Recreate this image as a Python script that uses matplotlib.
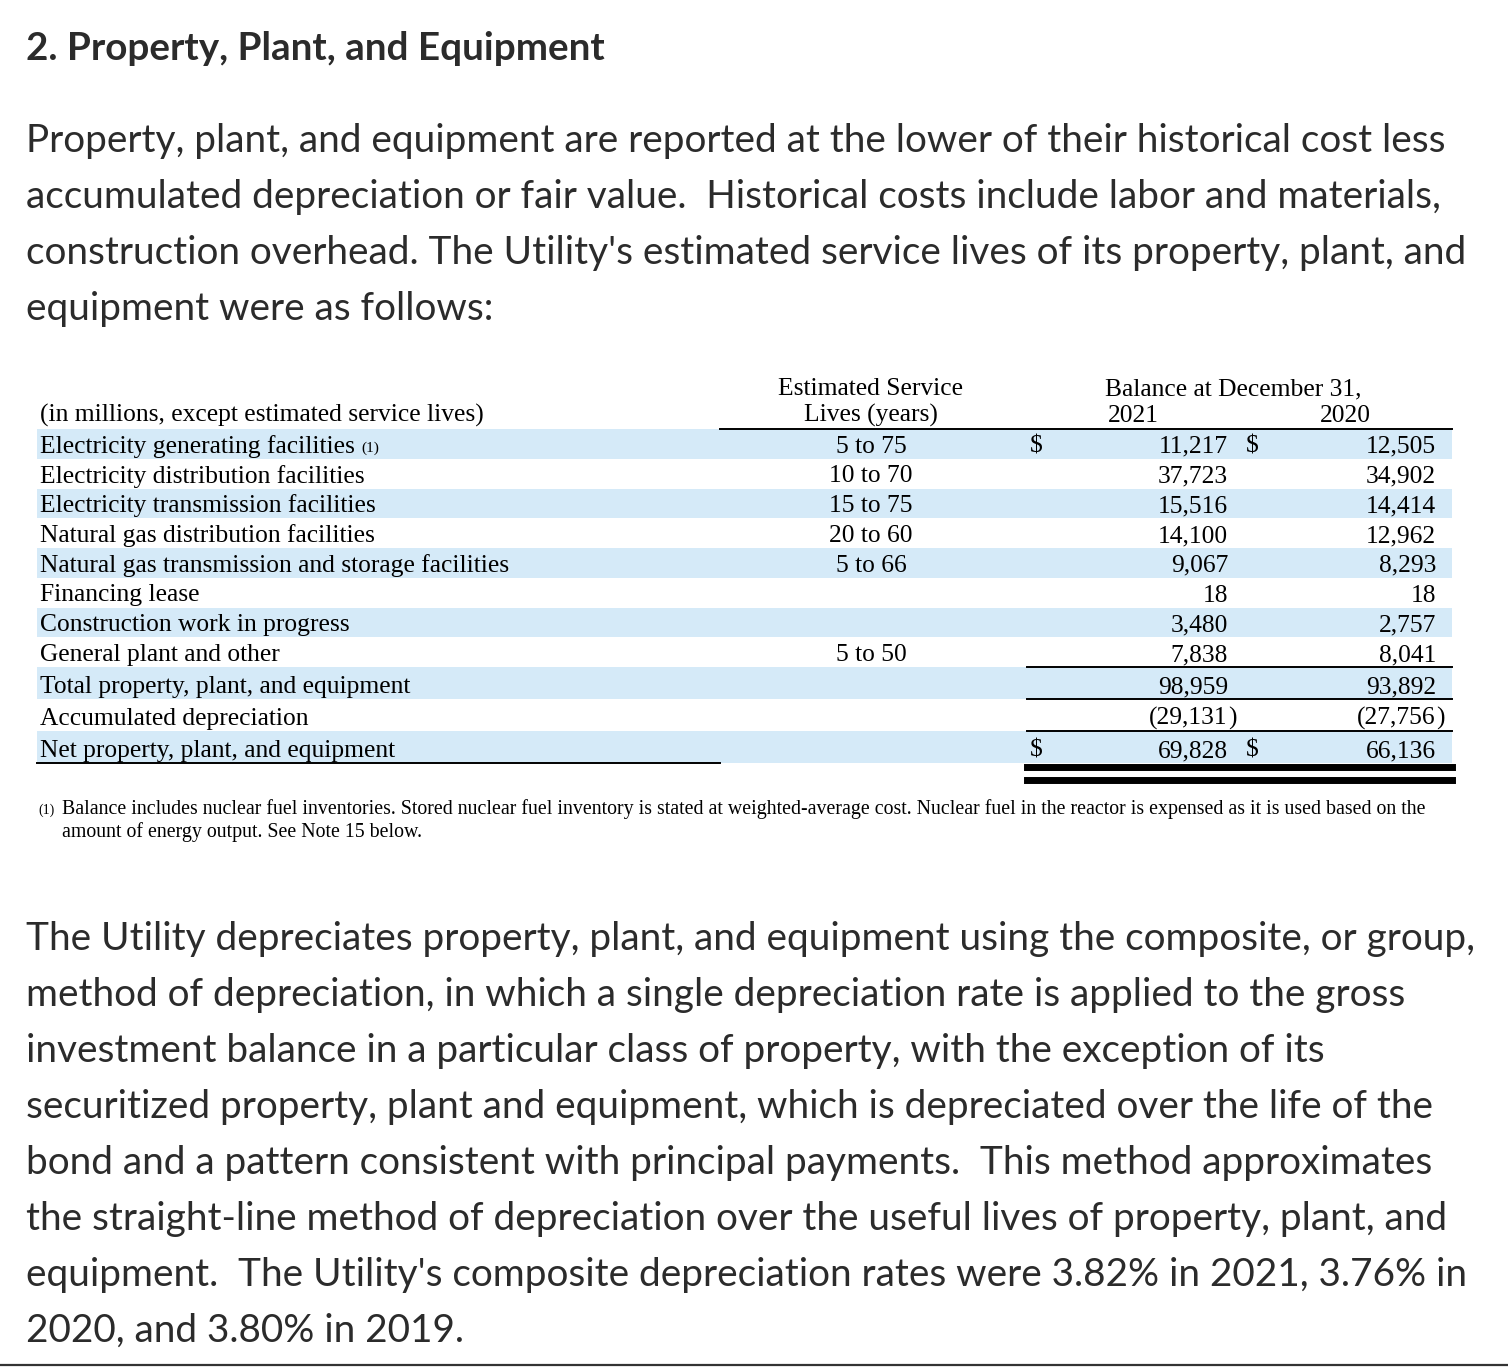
#!/usr/bin/env python3
"""Note 2 (property, plant, and equipment) redrawn as a page image."""

import matplotlib
matplotlib.use("Agg")
import matplotlib.pyplot as plt
from matplotlib.patches import Rectangle

title = "2. Property, Plant, and Equipment"

intro_lines = [
    "Property, plant, and equipment are reported at the lower of their historical cost less",
    "accumulated depreciation or fair value.  Historical costs include labor and materials,",
    "construction overhead. The Utility's estimated service lives of its property, plant, and",
    "equipment were as follows:",
]

outro_lines = [
    "The Utility depreciates property, plant, and equipment using the composite, or group,",
    "method of depreciation, in which a single depreciation rate is applied to the gross",
    "investment balance in a particular class of property, with the exception of its",
    "securitized property, plant and equipment, which is depreciated over the life of the",
    "bond and a pattern consistent with principal payments.  This method approximates",
    "the straight-line method of depreciation over the useful lives of property, plant, and",
    "equipment.  The Utility's composite depreciation rates were 3.82% in 2021, 3.76% in",
    "2020, and 3.80% in 2019.",
]

row_labels = [
    "Electricity generating facilities",
    "Electricity distribution facilities",
    "Electricity transmission facilities",
    "Natural gas distribution facilities",
    "Natural gas transmission and storage facilities",
    "Financing lease",
    "Construction work in progress",
    "General plant and other",
    "Total property, plant, and equipment",
    "Accumulated depreciation",
    "Net property, plant, and equipment",
]
service_lives = ["5 to 75", "10 to 70", "15 to 75", "20 to 60", "5 to 66",
                 "", "", "5 to 50", "", "", ""]
balance_2021 = [11217, 37723, 15516, 14100, 9067, 18, 3480, 7838,
                98959, -29131, 69828]
balance_2020 = [12505, 34902, 14414, 12962, 8293, 18, 2757, 8041,
                93892, -27756, 66136]
dollar_rows = [0, 10]

footnote_lines = [
    "Balance includes nuclear fuel inventories. Stored nuclear fuel inventory is stated at "
    "weighted-average cost. Nuclear fuel in the reactor is expensed as it is used based on the",
    "amount of energy output. See Note 15 below.",
]

W, H = 1508, 1368
SANS = "Lato"
SERIF = "Liberation Serif"
INK = "#2b2b2b"
STRIPE = "#d5eaf8"


def fmt(v):
    """Number as in the filing: thousands commas, negatives in parens."""
    if v < 0:
        return "({:,}".format(-v)  # closing paren drawn separately
    return "{:,}".format(v)


def main():
    fig = plt.figure(figsize=(W / 100, H / 100), dpi=100)
    ax = fig.add_axes([0, 0, 1, 1])
    ax.set_xlim(0, W)
    ax.set_ylim(H, 0)
    ax.axis("off")

    # Heading and first paragraph.
    psize = 27.9
    ax.text(26, 60, title, family=SANS, weight="bold", fontsize=27.8,
            color=INK, va="baseline")
    for i, line in enumerate(intro_lines):
        ax.text(26, 152 + 56 * i, line, family=SANS, fontsize=psize,
                color=INK, va="baseline")

    # Table.
    tsize = 18.4
    left, right = 37, 1452
    x_lives = 871
    x_d1, x_v1 = 1030, 1228
    x_d2, x_v2 = 1246, 1436

    # Row boundaries: eight regular rows, then three slightly taller.
    tops = [429 + 29.75 * i for i in range(8)] + [667, 699, 731]
    bottoms = tops[1:] + [763]

    for i in range(len(row_labels)):
        if i % 2 == 0:
            ax.add_patch(Rectangle((left, tops[i]), right - left,
                                   bottoms[i] - tops[i], color=STRIPE,
                                   lw=0, zorder=0))

    ax.text(40, 422, "(in millions, except estimated service lives)",
            family=SERIF, fontsize=tsize, va="baseline")
    ax.text(x_lives, 395, "Estimated Service", family=SERIF, fontsize=tsize,
            ha="center", va="baseline")
    ax.text(x_lives, 422, "Lives (years)", family=SERIF, fontsize=tsize,
            ha="center", va="baseline")
    ax.text(1105, 395, "Balance at December 31,", family=SERIF,
            fontsize=tsize, va="baseline")
    ax.text(1108, 422, "2021", family=SERIF, fontsize=tsize, va="baseline")
    ax.text(1320, 422, "2020", family=SERIF, fontsize=tsize, va="baseline")

    for i, label in enumerate(row_labels):
        yb = bottoms[i] - 6
        ax.text(40, yb, label, family=SERIF, fontsize=tsize, va="baseline")
        if i == 0:
            ax.text(361, yb - 1, "(1)", family=SERIF, fontsize=11,
                    va="baseline")
        if service_lives[i]:
            ax.text(x_lives, yb, service_lives[i], family=SERIF,
                    fontsize=tsize, ha="center", va="baseline")
        for xv, val in ((x_v1, balance_2021[i]), (x_v2, balance_2020[i])):
            ax.text(xv, yb, fmt(val), family=SERIF, fontsize=tsize,
                    ha="right", va="baseline")
            if val < 0:
                ax.text(xv, yb, ")", family=SERIF, fontsize=tsize,
                        ha="left", va="baseline")
        if i in dollar_rows:
            ax.text(x_d1, yb, "\\$", family=SERIF, fontsize=tsize,
                    va="baseline")
            ax.text(x_d2, yb, "\\$", family=SERIF, fontsize=tsize,
                    va="baseline")

    # Rules.
    ax.plot([720, right], [429, 429], color="black", lw=1.4)
    for y in (667, 699, 731):
        ax.plot([1027, right], [y, y], color="black", lw=1.4)
    ax.plot([left, 720], [763, 763], color="black", lw=1.4)
    ax.plot([1027, right], [766.5, 766.5], color="black", lw=5)
    ax.plot([1027, right], [779.5, 779.5], color="black", lw=5)

    # Footnote.
    ax.text(38, 814, "(1)", family=SERIF, fontsize=10, va="baseline")
    for i, line in enumerate(footnote_lines):
        ax.text(62, 814 + 23 * i, line, family=SERIF, fontsize=14.3,
                va="baseline")

    # Second paragraph.
    for i, line in enumerate(outro_lines):
        ax.text(26, 950 + 56 * i, line, family=SANS, fontsize=psize,
                color=INK, va="baseline")

    ax.plot([0, W], [1365, 1365], color="#333333", lw=1.6)

    fig.savefig("out.png", dpi=100)


if __name__ == "__main__":
    main()
